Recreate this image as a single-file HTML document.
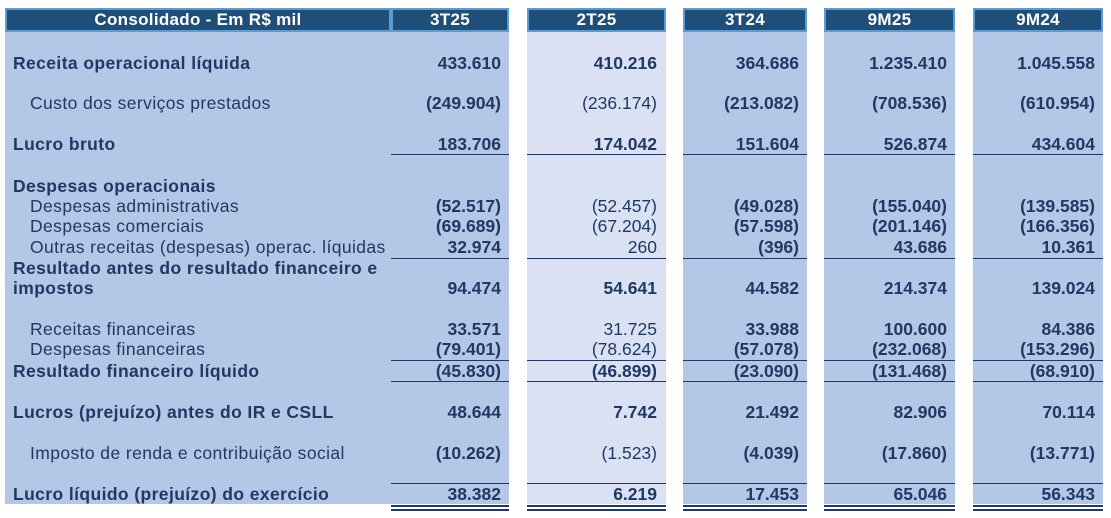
<!DOCTYPE html>
<html><head><meta charset="utf-8"><style>
body{margin:0;width:1111px;height:518px;background:#fff;position:relative;overflow:hidden;font-family:"Liberation Sans",sans-serif;color:#1f3864}
.p{position:absolute;top:32px;height:472px;background:#b4c7e7}
.h{position:absolute;top:8px;height:20px;background:#1f4e79;border:2px solid #5b9bd5;color:#fff;font-weight:bold;font-size:17px;text-align:center;line-height:20px;letter-spacing:0.3px}
.t{position:absolute;font-size:17.5px;white-space:nowrap;line-height:20px}
.l{letter-spacing:0.4px}
.b{font-weight:bold}
.r{text-align:right}
.ln{position:absolute;height:1px;background:#1f3864}
</style></head><body>
<div class="p" style="left:5px;width:504px"></div>
<div class="p" style="left:527px;width:139px;background:#dae1f3"></div>
<div class="p" style="left:683px;width:124px"></div>
<div class="p" style="left:824px;width:131px"></div>
<div class="p" style="left:973px;width:130px"></div>
<div class="h" style="left:5px;width:382px">Consolidado - Em R$ mil</div>
<div class="h" style="left:391px;width:114px">3T25</div>
<div class="h" style="left:527px;width:135px">2T25</div>
<div class="h" style="left:683px;width:120px">3T24</div>
<div class="h" style="left:824px;width:127px">9M25</div>
<div class="h" style="left:973px;width:126px">9M24</div>
<div id="c"></div>
<script>
var cols=[[391,509,501],[527,666,657],[683,807,799],[824,955,947],[973,1103,1095]];
var rows=[
[63,0,"Receita operacional líquida",["433.610","410.216","364.686","1.235.410","1.045.558"],1,1],
[103,1,"Custo dos serviços prestados",["(249.904)","(236.174)","(213.082)","(708.536)","(610.954)"],0,0],
[144,0,"Lucro bruto",["183.706","174.042","151.604","526.874","434.604"],1,1],
[186,0,"Despesas operacionais",null,1,1],
[206,1,"Despesas administrativas",["(52.517)","(52.457)","(49.028)","(155.040)","(139.585)"],0,0],
[226,1,"Despesas comerciais",["(69.689)","(67.204)","(57.598)","(201.146)","(166.356)"],0,0],
[247,1,"Outras receitas (despesas) operac. líquidas",["32.974","260","(396)","43.686","10.361"],0,0],
[268,0,"Resultado antes do resultado financeiro e",null,1,1],
[288,0,"impostos",["94.474","54.641","44.582","214.374","139.024"],1,1],
[329,1,"Receitas financeiras",["33.571","31.725","33.988","100.600","84.386"],0,0],
[349,1,"Despesas financeiras",["(79.401)","(78.624)","(57.078)","(232.068)","(153.296)"],0,0],
[371,0,"Resultado financeiro líquido",["(45.830)","(46.899)","(23.090)","(131.468)","(68.910)"],1,1],
[412,0,"Lucros (prejuízo) antes do IR e CSLL",["48.644","7.742","21.492","82.906","70.114"],1,1],
[453,1,"Imposto de renda e contribuição social",["(10.262)","(1.523)","(4.039)","(17.860)","(13.771)"],0,0],
[494,0,"Lucro líquido (prejuízo) do exercício",["38.382","6.219","17.453","65.046","56.343"],1,1]];
var h="";
rows.forEach(function(r){
 var y=r[0]-10;
 h+='<div class="t l'+(r[4]?' b':'')+'" style="left:'+(r[1]?30:13)+'px;top:'+y+'px">'+r[2]+'</div>';
 if(r[3]) r[3].forEach(function(v,i){
  var bold=(i==1)?r[5]:1;
  h+='<div class="t r'+(bold?' b':'')+'" style="left:'+(cols[i][2]-150)+'px;width:150px;top:'+y+'px">'+v+'</div>';
 });
});
[154,258,360,381,483].forEach(function(y){cols.forEach(function(c){h+='<div class="ln" style="left:'+c[0]+'px;width:'+(c[1]-c[0])+'px;top:'+y+'px"></div>';});});
cols.forEach(function(c){h+='<div class="ln" style="left:'+c[0]+'px;width:'+(c[1]-c[0])+'px;top:505px;height:2px"></div><div class="ln" style="left:'+c[0]+'px;width:'+(c[1]-c[0])+'px;top:509px;height:2px"></div>';});
document.getElementById("c").innerHTML=h;
</script>
</body></html>
